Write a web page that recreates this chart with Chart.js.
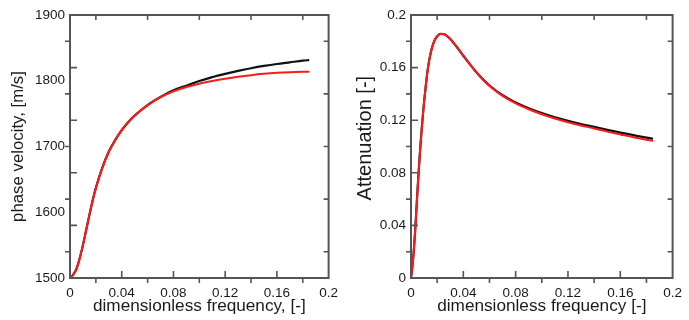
<!DOCTYPE html>
<html>
<head>
<meta charset="utf-8">
<script src="https://cdn.jsdelivr.net/npm/chart.js@4.4.1/dist/chart.umd.min.js"></script>
<style>
  html, body { margin: 0; padding: 0; background: #fff; }
  #wrap { position: relative; width: 689px; height: 320px; overflow: hidden; }
  .box { position: absolute; top: 0; height: 320px; }
  #b1 { left: 0; width: 345px; }
  #b2 { left: 345px; width: 344px; }
</style>
</head>
<body>
<div id="wrap">
  <div class="box" id="b1"><canvas id="c1"></canvas></div>
  <div class="box" id="b2"><canvas id="c2"></canvas></div>
</div>
<script>
// ---- data (left: phase velocity, m/s) ----
const freqV = [0,0.0025,0.005,0.0075,0.01,0.0125,0.015,0.0175,0.02,0.025,0.03,0.035,0.04,0.045,0.05,0.06,0.07,0.08,0.09,0.10,0.11,0.12,0.13,0.14,0.15,0.16,0.17,0.18,0.185];
const velRed   = [1500,1505,1514,1530,1550,1573,1596,1618,1637,1668,1692,1710,1725,1737,1747,1763,1775,1784,1790.5,1795.5,1799.5,1803,1806,1808.5,1810.5,1812,1813,1813.5,1813.6];
const velBlack = [1500,1505,1514,1530,1550,1573,1596,1618,1637,1668,1692,1710,1725,1737,1747,1763,1775.3,1785.5,1792.5,1799.5,1805.5,1810.5,1815,1819,1822.5,1825.5,1828,1830.5,1831.5];

// ---- data (right: attenuation, -) ----
const freqA = [0,0.001,0.002,0.003,0.004,0.005,0.006,0.007,0.008,0.009,0.01,0.0115,0.013,0.015,0.0175,0.02,0.0225,0.025,0.0275,0.03,0.0325,0.035,0.0375,0.04,0.045,0.05,0.055,0.06,0.07,0.08,0.09,0.10,0.11,0.12,0.13,0.14,0.15,0.16,0.17,0.18,0.185];
const attRed   = [0,0.008,0.019,0.033,0.050,0.067,0.083,0.098,0.111,0.123,0.134,0.148,0.160,0.171,0.1795,0.1838,0.1856,0.1855,0.1840,0.1817,0.1788,0.1757,0.1724,0.1690,0.1625,0.1563,0.1508,0.1460,0.1385,0.1328,0.1283,0.1245,0.1213,0.1185,0.1160,0.1137,0.1113,0.1092,0.1071,0.1052,0.1043];
const attBlack = [0,0.008,0.019,0.033,0.050,0.067,0.083,0.098,0.111,0.123,0.134,0.148,0.160,0.171,0.1795,0.1838,0.1856,0.1855,0.1840,0.1817,0.1788,0.1757,0.1724,0.1690,0.1626,0.1565,0.1511,0.1464,0.1390,0.1335,0.1291,0.1254,0.1222,0.1195,0.1171,0.1149,0.1126,0.1106,0.1086,0.1067,0.1060];

// ---- tick labels ----
const xTickLabels = ['0','0.04','0.08','0.12','0.16','0.2'];
const yTickLabelsV = ['1500','1600','1700','1800','1900'];
const yTickLabelsA = ['0','0.04','0.08','0.12','0.16','0.2'];

const FONT = '"Liberation Sans", Arial, Helvetica, sans-serif';
const TXT = '#1a1a1a';
const FRAME = '#555555';

function pts(xs, ys) { return xs.map((x, i) => ({ x: x, y: ys[i] })); }

// frame + inward/outward tick marks, drawn through the chart's own scales
const frameTicks = {
  id: 'frameTicks',
  afterDraw(chart) {
    const ctx = chart.ctx;
    const xs = chart.scales.x, ys = chart.scales.y;
    const a = chart.chartArea;
    ctx.save();
    ctx.strokeStyle = FRAME;
    ctx.lineWidth = 1.6;
    const xv = f => xs.getPixelForValue(xs.min + f * (xs.max - xs.min));
    const yv = f => ys.getPixelForValue(ys.min + f * (ys.max - ys.min));
    ctx.beginPath();
    [0.2, 0.4, 0.6, 0.8].forEach(f => {
      const px = xv(f); ctx.moveTo(px, a.bottom); ctx.lineTo(px, a.bottom - 7);
      const py = yv(f); ctx.moveTo(a.left, py); ctx.lineTo(a.left + 7, py);
    });
    [0.1, 0.3, 0.5, 0.7, 0.9].forEach(f => {
      const px = xv(f), py = yv(f);
      ctx.moveTo(px, a.bottom); ctx.lineTo(px, a.bottom + 5);
      ctx.moveTo(a.left, py); ctx.lineTo(a.left - 5, py);
      ctx.moveTo(px, a.top); ctx.lineTo(px, a.top + 5);
      ctx.moveTo(a.right, py); ctx.lineTo(a.right - 5, py);
    });
    ctx.stroke();
    ctx.lineWidth = 2;
    ctx.strokeRect(a.left, a.top, a.right - a.left, a.bottom - a.top);
    ctx.restore();
  }
};

function makeChart(id, xData, redY, blackY, yMin, yMax, yStep, yLabels, xTitle, yTitle, yTitleSize, yWidth, padRight, yTitlePad) {
  return new Chart(document.getElementById(id), {
    type: 'scatter',
    data: {
      datasets: [
        { data: pts(xData, redY), borderColor: '#ff1a1a', borderWidth: 2, showLine: true, pointRadius: 0, cubicInterpolationMode: 'monotone' },
        { data: pts(xData, blackY), borderColor: '#111111', borderWidth: 2.2, showLine: true, pointRadius: 0, cubicInterpolationMode: 'monotone' }
      ]
    },
    options: {
      responsive: true,
      maintainAspectRatio: false,
      devicePixelRatio: 1,
      animation: false,
      events: [],
      layout: { padding: { top: 15, right: padRight, left: 0, bottom: 0 } },
      plugins: { legend: { display: false }, tooltip: { enabled: false } },
      scales: {
        x: {
          type: 'linear', min: 0, max: 0.2,
          grid: { display: false, drawTicks: false },
          border: { display: false },
          ticks: {
            stepSize: 0.04, padding: 7, color: TXT, maxRotation: 0, autoSkip: false,
            font: { family: FONT, size: 13.5 },
            callback: (v, i) => xTickLabels[i]
          },
          title: {
            display: true, text: xTitle,
            color: TXT, font: { family: FONT, size: 17.2 }, padding: { top: 0, bottom: 3 }
          },
          afterFit: s => { s.height = 42; }
        },
        y: {
          type: 'linear', min: yMin, max: yMax,
          grid: { display: false, drawTicks: false },
          border: { display: false },
          ticks: {
            stepSize: yStep, padding: 5, color: TXT, autoSkip: false,
            font: { family: FONT, size: 13.5 },
            callback: (v, i) => yLabels[i]
          },
          title: {
            display: true, text: yTitle, color: TXT,
            font: { family: FONT, size: yTitleSize }, padding: { top: yTitlePad, bottom: 0 }
          },
          afterFit: s => { s.width = yWidth; }
        }
      }
    },
    plugins: [frameTicks]
  });
}

makeChart('c1', freqV, velRed, velBlack, 1500, 1900, 100, yTickLabelsV, 'dimensionless frequency, [-]', 'phase velocity, [m/s]', 16.8, 70, 12, 8);
makeChart('c2', freqA, attRed, attBlack, 0, 0.2, 0.04, yTickLabelsA, 'dimensionless frequency [-]', '   Attenuation [-]', 20, 66, 11, 8);
</script>
</body>
</html>
